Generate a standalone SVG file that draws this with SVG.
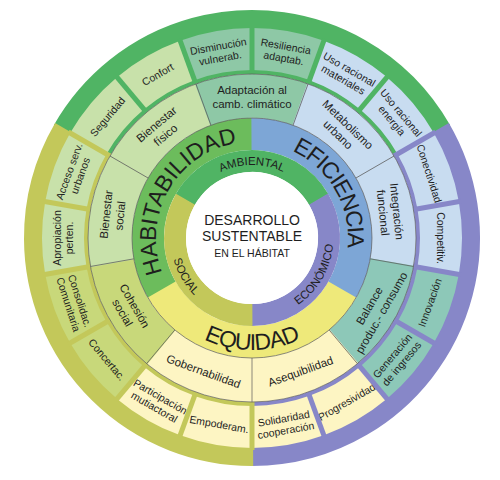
<svg xmlns="http://www.w3.org/2000/svg" width="500" height="480" viewBox="0 0 500 480">
<style>
.t{font-family:"Liberation Sans",Arial,sans-serif;fill:#1e1e1e;text-anchor:middle}
.s5{font-size:10.5px}
.s4{font-size:11.5px}
.s2{font-size:11.5px}
.big{font-size:23px}
.seg{fill:none}
.gr{stroke:#50b464}.pu{stroke:#8787c8}.ol{stroke:#c3c85a}
.hab{stroke:#6cbc5c}.efi{stroke:#7da6d6}.equ{stroke:#eee97a}
.lg{stroke:#c8e1aa}.tg{stroke:#8ec8a6}.lb{stroke:#c8dcf0}.tb{stroke:#8dc8b8}.ly{stroke:#fdf5c3}.og{stroke:#c8d87a}
.r5{stroke-width:42;stroke-dasharray:20 340}
.r4{stroke-width:44;stroke-dasharray:40.6 320}
.sep{stroke-width:5}
.thin{stroke:#5a5a5a;stroke-width:0.7;fill:none}
</style>
<defs>
<path id="pAmb" d="M 179 238 A 73 73 0 0 1 325 238"/>
<path id="pEco" d="M 211 309.01 A 82 82 0 0 0 293 166.99"/>
<path id="pSoc" d="M 211 166.99 A 82 82 0 0 0 293 309.01"/>
<path id="pHab" d="M 204 321.14 A 96 96 0 0 1 300 154.86"/>
<path id="pEfi" d="M 204 154.86 A 96 96 0 0 1 300 321.14"/>
<path id="pEqu" d="M 140 238 A 112 112 0 0 0 364 238"/>
</defs>

<!-- outer bands -->
<g id="bands">
<circle class="seg gr" r="196" stroke-width="64" pathLength="360" stroke-dasharray="120.6 240" transform="translate(252,238) rotate(-150.3)"/>
<circle class="seg pu" r="196" stroke-width="64" pathLength="360" stroke-dasharray="120.6 240" transform="translate(252,238) rotate(-30.3)"/>
<circle class="seg ol" r="196" stroke-width="64" pathLength="360" stroke-dasharray="120.6 240" transform="translate(252,238) rotate(89.7)"/>
</g>

<!-- outer cells -->
<g id="seguridad"><circle class="seg lg r5" r="189" pathLength="360" transform="translate(252,238) rotate(-150)"/><text class="t s5" transform="translate(107.2,116.5) rotate(-50)" y="4">Seguridad</text></g>
<g id="confort"><circle class="seg lg r5" r="189" pathLength="360" transform="translate(252,238) rotate(-130)"/><text class="t s5" transform="translate(157.5,74.3) rotate(-30)" y="4">Confort</text></g>
<g id="disminucion"><circle class="seg tg r5" r="189" pathLength="360" transform="translate(252,238) rotate(-110)"/><text class="t s5" transform="translate(219.2,51.9) rotate(-10)"><tspan x="0" y="-2">Disminución</tspan><tspan x="0" y="10">vulnerab.</tspan></text></g>
<g id="resiliencia"><circle class="seg tg r5" r="189" pathLength="360" transform="translate(252,238) rotate(-90)"/><text class="t s5" transform="translate(284.8,51.9) rotate(10)"><tspan x="0" y="-2">Resiliencia</tspan><tspan x="0" y="10">adaptab.</tspan></text></g>
<g id="uso-materiales"><circle class="seg lb r5" r="189" pathLength="360" transform="translate(252,238) rotate(-70)"/><text class="t s5" transform="translate(346.5,74.3) rotate(30)"><tspan x="0" y="-2">Uso racional</tspan><tspan x="0" y="10">materiales</tspan></text></g>
<g id="uso-energia"><circle class="seg lb r5" r="189" pathLength="360" transform="translate(252,238) rotate(-50)"/><text class="t s5" transform="translate(396.8,116.5) rotate(50)"><tspan x="0" y="-2">Uso racional</tspan><tspan x="0" y="10">energía</tspan></text></g>
<g id="conectividad"><circle class="seg lb r5" r="189" pathLength="360" transform="translate(252,238) rotate(-30)"/><text class="t s5" transform="translate(429.6,173.4) rotate(72)" y="4">Conectividad</text></g>
<g id="competitiv"><circle class="seg lb r5" r="189" pathLength="360" transform="translate(252,238) rotate(-10)"/><text class="t s5" transform="translate(441,238) rotate(90)" y="4">Competitiv.</text></g>
<g id="innovacion"><circle class="seg tb r5" r="189" pathLength="360" transform="translate(252,238) rotate(10)"/><text class="t s5" transform="translate(429.6,302.6) rotate(-70)" y="4">Innovación</text></g>
<g id="generacion"><circle class="seg tb r5" r="189" pathLength="360" transform="translate(252,238) rotate(30)"/><text class="t s5" transform="translate(396.8,359.5) rotate(-50)"><tspan x="0" y="-2">Generación</tspan><tspan x="0" y="10">de ingresos</tspan></text></g>
<g id="progresividad"><circle class="seg ly r5" r="189" pathLength="360" transform="translate(252,238) rotate(50)"/><text class="t s5" transform="translate(346.5,401.7) rotate(-30)" y="4">Progresividad</text></g>
<g id="solidaridad"><circle class="seg ly r5" r="189" pathLength="360" transform="translate(252,238) rotate(70)"/><text class="t s5" transform="translate(284.8,424.1) rotate(-10)"><tspan x="0" y="-2">Solidaridad</tspan><tspan x="0" y="10">cooperación</tspan></text></g>
<g id="empoderam"><circle class="seg ly r5" r="189" pathLength="360" transform="translate(252,238) rotate(90)"/><text class="t s5" transform="translate(219.2,424.1) rotate(10)" y="4">Empoderam.</text></g>
<g id="participacion"><circle class="seg ly r5" r="189" pathLength="360" transform="translate(252,238) rotate(110)"/><text class="t s5" transform="translate(157.5,401.7) rotate(30)"><tspan x="0" y="-2">Participación</tspan><tspan x="0" y="10">mutiactoral</tspan></text></g>
<g id="concertac"><circle class="seg og r5" r="189" pathLength="360" transform="translate(252,238) rotate(130)"/><text class="t s5" transform="translate(107.2,359.5) rotate(50)" y="4">Concertac.</text></g>
<g id="consolidac"><circle class="seg og r5" r="189" pathLength="360" transform="translate(252,238) rotate(150)"/><text class="t s5" transform="translate(74.4,302.6) rotate(72)"><tspan x="0" y="-2">Consolidac.</tspan><tspan x="0" y="10">Comunitaria</tspan></text></g>
<g id="apropiacion"><circle class="seg lg r5" r="189" pathLength="360" transform="translate(252,238) rotate(170)"/><text class="t s5" transform="translate(63,238) rotate(-90)"><tspan x="0" y="-2">Apropiación</tspan><tspan x="0" y="10">perten.</tspan></text></g>
<g id="acceso"><circle class="seg lg r5" r="189" pathLength="360" transform="translate(252,238) rotate(190)"/><text class="t s5" transform="translate(74.4,173.4) rotate(-70)"><tspan x="0" y="-2">Acceso serv.</tspan><tspan x="0" y="10">urbanos</tspan></text></g>

<!-- separators between outer cells -->
<g id="separators">
<g class="gr sep">
<line x1="163" x2="212" transform="translate(252,238) rotate(-50)"/>
<line x1="163" x2="212" transform="translate(252,238) rotate(-70)"/>
<line x1="163" x2="212" transform="translate(252,238) rotate(-90)"/>
<line x1="163" x2="212" transform="translate(252,238) rotate(-110)"/>
<line x1="163" x2="212" transform="translate(252,238) rotate(-130)"/>
</g>
<g class="ol sep">
<line x1="163" x2="212" transform="translate(252,238) rotate(-150)"/>
<line x1="163" x2="212" transform="translate(252,238) rotate(-170)"/>
<line x1="163" x2="212" transform="translate(252,238) rotate(-190)"/>
<line x1="163" x2="212" transform="translate(252,238) rotate(-210)"/>
<line x1="163" x2="212" transform="translate(252,238) rotate(-230)"/>
<line x1="163" x2="212" transform="translate(252,238) rotate(-250)"/>
<line x1="163" x2="212" transform="translate(252,238) rotate(-270)"/>
</g>
<g class="pu sep">
<line x1="163" x2="212" transform="translate(252,238) rotate(-10)"/>
<line x1="163" x2="212" transform="translate(252,238) rotate(-30)"/>
<line x1="163" x2="212" transform="translate(252,238) rotate(-290)"/>
<line x1="163" x2="212" transform="translate(252,238) rotate(-310)"/>
<line x1="163" x2="212" transform="translate(252,238) rotate(-330)"/>
<line x1="163" x2="212" transform="translate(252,238) rotate(-350)"/>
</g>
</g>

<!-- ring 4 -->
<g id="bienestar-fisico"><circle class="seg lg r4" r="142" pathLength="360" transform="translate(252,238) rotate(-150.3)"/><text class="t s4" transform="translate(160.7,129.2) rotate(-40)"><tspan x="0" y="-2.5">Bienestar</tspan><tspan x="0" y="11.5">físico</tspan></text></g>
<g id="adaptacion"><circle class="seg tg r4" r="142" pathLength="360" transform="translate(252,238) rotate(-110.3)"/><text class="t s4" transform="translate(252,96)"><tspan x="0" y="-2.5">Adaptación al</tspan><tspan x="0" y="11.5">camb. climático</tspan></text></g>
<g id="metabolismo"><circle class="seg lb r4" r="142" pathLength="360" transform="translate(252,238) rotate(-70.3)"/><text class="t s4" transform="translate(343.3,129.2) rotate(44)"><tspan x="0" y="-2.5">Metabolismo</tspan><tspan x="0" y="11.5">urbano</tspan></text></g>
<g id="integracion"><circle class="seg lb r4" r="142" pathLength="360" transform="translate(252,238) rotate(-30.3)"/><text class="t s4" transform="translate(390.5,212) rotate(84)"><tspan x="0" y="-2.5">Integración</tspan><tspan x="0" y="11.5">funcional</tspan></text></g>
<g id="balance"><circle class="seg tb r4" r="142" pathLength="360" transform="translate(252,238) rotate(9.7)"/><text class="t s4" transform="translate(375,309) rotate(-60)"><tspan x="0" y="-2.5">Balance</tspan><tspan x="0" y="11.5">produc.- consumo</tspan></text></g>
<g id="asequibilidad"><circle class="seg ly r4" r="142" pathLength="360" transform="translate(252,238) rotate(49.7)"/><text class="t s4" transform="translate(300.6,371.4) rotate(-20)" y="4">Asequibilidad</text></g>
<g id="gobernabilidad"><circle class="seg ly r4" r="142" pathLength="360" transform="translate(252,238) rotate(89.7)"/><text class="t s4" transform="translate(203.4,371.4) rotate(20)" y="4">Gobernabilidad</text></g>
<g id="cohesion"><circle class="seg og r4" r="142" pathLength="360" transform="translate(252,238) rotate(129.7)"/><text class="t s4" transform="translate(129,309) rotate(60)"><tspan x="0" y="-2.5">Cohesión</tspan><tspan x="0" y="11.5">social</tspan></text></g>
<g id="bienestar-social"><circle class="seg lg r4" r="142" pathLength="360" transform="translate(252,238) rotate(169.7)"/><text class="t s4" transform="translate(112.5,215) rotate(-84)"><tspan x="0" y="-2.5">Bienestar</tspan><tspan x="0" y="11.5">social</tspan></text></g>
<g id="ring4-lines" class="thin">
<circle cx="252" cy="238" r="164"/>
<line x1="120" x2="164" transform="translate(252,238) rotate(-110)"/>
<line x1="120" x2="164" transform="translate(252,238) rotate(-70)"/>
<line x1="120" x2="164" transform="translate(252,238) rotate(-30)"/>
<line x1="120" x2="164" transform="translate(252,238) rotate(10)"/>
<line x1="120" x2="164" transform="translate(252,238) rotate(50)"/>
<line x1="120" x2="164" transform="translate(252,238) rotate(90)"/>
<line x1="120" x2="164" transform="translate(252,238) rotate(130)"/>
<line x1="120" x2="164" transform="translate(252,238) rotate(170)"/>
<line x1="120" x2="164" transform="translate(252,238) rotate(-150)"/>
</g>

<!-- principles -->
<g id="habitabilidad"><circle class="seg hab" r="104" stroke-width="32" pathLength="360" stroke-dasharray="120.6 240" transform="translate(252,238) rotate(-210.3)"/><text class="t big"><textPath href="#pHab" startOffset="50%">HABITABILIDAD</textPath></text></g>
<g id="eficiencia"><circle class="seg efi" r="104" stroke-width="32" pathLength="360" stroke-dasharray="120.6 240" transform="translate(252,238) rotate(-90.3)"/><text class="t big" letter-spacing="-1.1"><textPath href="#pEfi" startOffset="50%">EFICIENCIA</textPath></text></g>
<g id="equidad"><circle class="seg equ" r="104" stroke-width="32" pathLength="360" stroke-dasharray="120.6 240" transform="translate(252,238) rotate(29.7)"/><text class="t big" letter-spacing="-0.8"><textPath href="#pEqu" startOffset="50%">EQUIDAD</textPath></text></g>
<circle class="thin" cx="252" cy="238" r="120"/>

<!-- dimensions -->
<g id="ambiental"><circle class="seg gr" r="77" stroke-width="22" pathLength="360" stroke-dasharray="120.6 240" transform="translate(252,238) rotate(-150.3)"/><text class="t s2"><textPath href="#pAmb" startOffset="50%">AMBIENTAL</textPath></text></g>
<g id="economico"><circle class="seg pu" r="77" stroke-width="22" pathLength="360" stroke-dasharray="120.6 240" transform="translate(252,238) rotate(-30.3)"/><text class="t s2"><textPath href="#pEco" startOffset="50%">ECONÓMICO</textPath></text></g>
<g id="social"><circle class="seg ol" r="77" stroke-width="22" pathLength="360" stroke-dasharray="120.6 240" transform="translate(252,238) rotate(89.7)"/><text class="t s2"><textPath href="#pSoc" startOffset="50%">SOCIAL</textPath></text></g>

<!-- center -->
<g id="centro">
<circle cx="252" cy="238" r="66" fill="#ffffff"/>
<text class="t" font-size="14" x="252" y="224.5">DESARROLLO</text>
<text class="t" font-size="14" x="252" y="240.5">SUSTENTABLE</text>
<text class="t" font-size="10.5" x="252" y="257">EN EL HÁBITAT</text>
</g>
</svg>
